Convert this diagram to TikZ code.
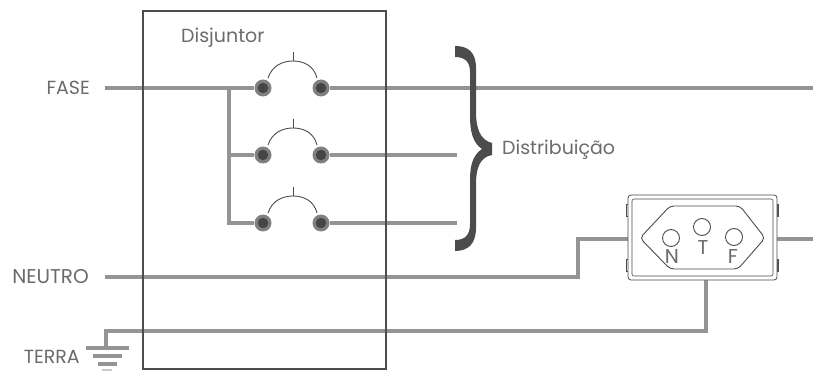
\documentclass[tikz,border=0pt]{standalone}
\usepackage{fontspec}
\setmainfont{Poppins}
\definecolor{wire}{gray}{0.58}
\definecolor{ink}{gray}{0.3}
\definecolor{txt}{gray}{0.42}
\definecolor{contactout}{gray}{0.5}
\definecolor{contactin}{gray}{0.27}
\tikzset{
  wireline/.style={draw=wire,line width=3.4pt},
  thinline/.style={draw=ink,line width=0.9pt},
  contact/.style={circle,fill=contactout,draw=none,minimum size=17pt,inner sep=0pt},
  contactcore/.style={circle,fill=contactin,draw=none,minimum size=10.5pt,inner sep=0pt},
  lab/.style={text=txt,inner sep=0pt,font=\fontsize{19}{19}\selectfont},
  pin/.style={circle,draw=ink,line width=0.9pt,minimum size=17pt,inner sep=0pt},
  pinlab/.style={text=txt,inner sep=0pt,font=\fontsize{20}{20}\selectfont}
}
\begin{document}
\begin{tikzpicture}[x=1pt,y=-1pt]
\useasboundingbox (0,0) rectangle (813,371);
\coordinate (fs) at (105,88);
\coordinate (fe) at (813,88);
\coordinate (j1) at (229,88);
\coordinate (j2) at (229,155);
\coordinate (j3) at (229,223);
\coordinate (d2) at (457,155);
\coordinate (d3) at (457,223);
\coordinate (ns) at (105,277);
\coordinate (nc) at (578,277);
\coordinate (nd) at (578,239);
\coordinate (sl) at (628,239);
\coordinate (sr) at (777,239);
\coordinate (se) at (813,239);
\coordinate (tc) at (106,331);
\coordinate (tr) at (706,331);
\coordinate (sb) at (706,280);
\coordinate (g0) at (106,348);
% contacts
\foreach \n/\x/\y in {a1/263/88,b1/321/88,a2/263/155,b2/321/155,a3/263/223,b3/321/223}{
  \node[contact] (\n) at (\x,\y) {};
  \node[contactcore] at (\n) {};
}
% wires
\draw[wireline] (fs) -- (a1);
\draw[wireline] (b1) -- (fe);
\draw[wireline] (j1) -- (j3) -- (a3);
\draw[wireline] (j2) -- (a2);
\draw[wireline] (b2) -- (d2);
\draw[wireline] (b3) -- (d3);
\draw[wireline] (ns) -- (nc) -- (nd) -- (sl);
\draw[wireline] (sr) -- (se);
\draw[wireline] (g0) -- (tc) -- (tr) -- (sb);
% breaker box
\node[draw=ink,line width=1.3pt,minimum width=243pt,minimum height=358pt,inner sep=0pt] (box) at (264.5,190) {};
% switch arcs
\foreach \y in {0,67,135}{
  \draw[thinline] (268,78+\y) .. controls (272,66+\y) and (282,61+\y) .. (293,61+\y) .. controls (304,61+\y) and (314,66+\y) .. (317,78+\y);
  \draw[thinline] (293,52+\y) -- (293,61+\y);
}
% brace
\fill[ink] (455,46) .. controls (468,46) and (476,52) .. (476,68)
  -- (476,112) .. controls (476,128) and (480,140) .. (492,143)
  -- (492,155) .. controls (480,157) and (476,168) .. (476,184)
  -- (476,228) .. controls (476,244) and (468,251) .. (455,251)
  -- (455,240) .. controls (465,240) and (470,235) .. (470,224)
  -- (470,180) .. controls (470,165) and (473,155) .. (482,149)
  .. controls (473,143) and (470,132) .. (470,116)
  -- (470,72) .. controls (470,62) and (465,57) .. (455,57) -- cycle;
% socket
\draw[draw=ink,line width=0.7pt] (626.5,204) rectangle (628,216) (626.5,259) rectangle (628,271) (777,204) rectangle (778.5,216) (777,259) rectangle (778.5,271);
\node[draw=ink,line width=0.8pt,rounded corners=3pt,fill=white,minimum width=149pt,minimum height=85pt,inner sep=0pt] (sock) at (702.5,237.5) {};
\draw[draw=ink,line width=0.6pt,rounded corners=2pt] (632,199) rectangle (773,276);
\draw[thinline,rounded corners=4pt] (640,238) -- (670,206) -- (740,206) -- (765,238) -- (738,269) -- (670,269) -- cycle;
\node[pin] (pn) at (671,238) {};
\node[pin] (pt) at (702,227) {};
\node[pin] (pf) at (734,237) {};
\node[pinlab] at (672,257) {N};
\node[pinlab] at (703,248) {T};
\node[pinlab] at (733,257) {F};
% ground
\draw[wireline] (86,348) -- (129,348);
\draw[wireline] (93,356) -- (122,356);
\draw[wireline] (98,364) -- (117,364);
\draw[wireline,draw=wire!50] (102,370.5) -- (112,370.5);
% labels
\node[lab,anchor=east] (fase) at (90,88) {FASE};
\node[lab,anchor=east,font=\fontsize{20}{20}\selectfont] (neutro) at (89,277) {NEUTRO};
\node[lab,anchor=east] (terra) at (80,357) {TERRA};
\node[lab,anchor=west] (disj) at (181,38) {Disjuntor};
\node[lab,anchor=west] (dist) at (502,150) {Distribuição};
\end{tikzpicture}
\end{document}
